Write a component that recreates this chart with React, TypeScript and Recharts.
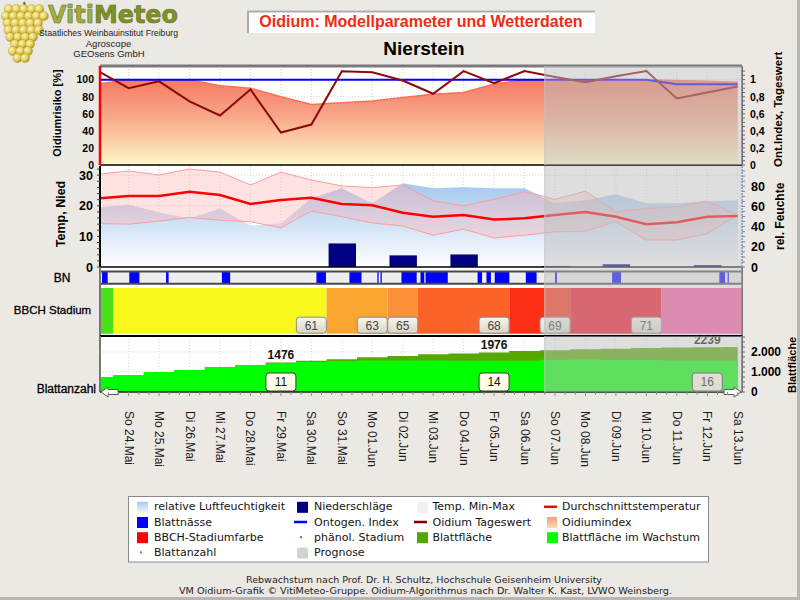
import React from 'react';
import {
  ComposedChart,
  Area,
  Line,
  Bar,
  XAxis,
  YAxis,
  CartesianGrid,
  ReferenceArea,
  ReferenceLine,
  ReferenceDot,
} from 'recharts';

// ---------- daily values, Sa 23.Mai … Sa 13.Jun ----------
const dayLabels = [
  'Sa 23.Mai', 'So 24.Mai', 'Mo 25.Mai', 'Di 26.Mai', 'Mi 27.Mai', 'Do 28.Mai', 'Fr 29.Mai',
  'Sa 30.Mai', 'So 31.Mai', 'Mo 01.Jun', 'Di 02.Jun', 'Mi 03.Jun', 'Do 04.Jun', 'Fr 05.Jun',
  'Sa 06.Jun', 'So 07.Jun', 'Mo 08.Jun', 'Di 09.Jun', 'Mi 10.Jun', 'Do 11.Jun', 'Fr 12.Jun',
  'Sa 13.Jun',
];

// Oidiumindex in %
const oidiumIndex = [95, 100, 100, 100, 93, 90, 80, 71, 73, 75, 79, 83, 85, 95, 100, 100, 100, 100, 100, 99, 98, 97];
// Oidium Tageswert (0..1)
const oidiumTageswert = [1.1, 0.9, 0.98, 0.745, 0.58, 0.886, 0.38, 0.474, 1.098, 1.086, 0.99, 0.835, 1.1, 0.96, 1.1, 1.03, 0.97, 1.04, 1.1, 0.78, 0.85, 0.92];
// Ontogenetischer Index (0..1)
const ontogenIndex = [1, 1, 1, 1, 1, 1, 1, 1, 1, 1, 1, 1, 1, 1, 1, 1, 1, 1, 1, 0.945, 0.945, 0.945];

// relative Luftfeuchtigkeit in %
const relHumidity = [59, 62, 54, 48, 58, 41, 43, 68, 78, 63, 83, 78, 79, 78, 78, 63, 66, 72, 63, 63, 65, 66];
// Temperatur in °C
const tempMean = [22.4, 23.2, 23.2, 24.6, 23.5, 20.6, 21.9, 22.6, 20.6, 20.2, 17.7, 16.4, 17.0, 15.5, 15.9, 17.0, 18.0, 16.4, 14.0, 14.6, 16.4, 16.7];
const tempMax = [30.3, 31.4, 30.1, 32.0, 31.0, 26.8, 31.0, 28.4, 26.5, 25.9, 26.8, 21.6, 20.0, 22.1, 24.6, 22.1, 24.8, 18.0, 19.1, 19.7, 21.5, 17.0];
const tempMin = [14.2, 14.0, 15.0, 16.2, 15.3, 14.8, 12.8, 18.3, 16.4, 14.4, 13.4, 10.4, 12.4, 9.5, 10.4, 11.5, 11.7, 14.8, 8.8, 8.8, 10.9, 17.0];
// Niederschläge in mm
const precipitation = [0, 0, 0, 0, 0, 0, 0, 0, 7.7, 0, 3.8, 0, 4.1, 0, 0, 0.3, 0, 0.9, 0, 0, 0.6, 0];

// Blattfläche in cm²
const leafArea = [750, 835, 1000, 1100, 1235, 1350, 1476, 1560, 1635, 1735, 1800, 1885, 1930, 1976, 2050, 2085, 2135, 2165, 2200, 2220, 2239, 2250];
const leafAreaGrowing = [750, 835, 1000, 1100, 1235, 1350, 1440, 1500, 1550, 1570, 1580, 1580, 1560, 1560, 1560, 1610, 1620, 1600, 1600, 1580, 1570, 1560];

// BBCH-Stadium je Tag
const bbchStage = [57, 61, 61, 61, 61, 61, 61, 61, 63, 63, 65, 68, 68, 68, 69, 69, 71, 71, 71, 73, 73, 73];
const bbchColors: Record<number, string> = {
  57: '#4BE01C',
  61: '#F8F81C',
  63: '#FBA531',
  65: '#FA9138',
  68: '#FC6329',
  69: '#FC3016',
  71: '#F01226',
  73: '#F85AA2',
};

// Blattanzahl (wöchentlich)
const leafCountDays = ['Fr 29.Mai', 'Fr 05.Jun', 'Fr 12.Jun'];
const leafCounts = [11, 14, 16];

// Blattnässe-Perioden in Stunden ab So 24.Mai 00:00
const leafWetnessHours: Array<[number, number]> = [
  [-21, -16.5], [0.5, 8.5], [29.5, 31.5], [73.5, 80], [148, 155.5], [174, 183.5], [196, 197], [198.5, 199.5],
  [215, 227], [230, 233], [234, 251.5], [275, 278.5], [282, 285.5], [288.5, 300], [313, 321.5], [336, 337.5],
  [381, 388], [465.5, 470], [472, 473],
];

// Beginn der Prognose in Stunden ab So 24.Mai 00:00
const forecastStartHour = 328;

// ---------- derived tables ----------
const xDomain: [number, number] = [-0.94, 20.14];
const forecastStart = forecastStartHour / 24;

const rows = dayLabels.map((label, i) => ({
  t: i - 1,
  label,
  oidiumIndex: oidiumIndex[i],
  tageswert: oidiumTageswert[i],
  ontogen: ontogenIndex[i],
  humidity: relHumidity[i],
  tempMean: tempMean[i],
  tempRange: [tempMin[i], tempMax[i]],
  precip: precipitation[i],
  leafArea: leafArea[i],
  leafGrowing: leafAreaGrowing[i],
}));

const dayTicks = rows.map((r) => r.t).filter((t) => t >= 0);
const minorDayTicks = Array.from({ length: 64 }, (_, k) => (k - 2) / 3).filter(
  (t) => t >= xDomain[0] && t <= xDomain[1],
);

type Run = { stage: number; start: number; end: number };
const bbchRuns: Run[] = [];
bbchStage.forEach((stage, i) => {
  const t = i - 1;
  const last = bbchRuns[bbchRuns.length - 1];
  if (last && last.stage === stage) last.end = t;
  else bbchRuns.push({ stage, start: t, end: t });
});

const leafLabels = leafCountDays.map((d, k) => {
  const i = dayLabels.indexOf(d);
  return { t: i - 1, area: leafArea[i], count: leafCounts[k] };
});

// ---------- styling helpers ----------
const FONT = "'Liberation Sans', Arial, Helvetica, sans-serif";
const LEGEND_FONT = "'DejaVu Sans', Verdana, sans-serif";

const isMultiple = (v: number, step: number) => Math.abs(v / step - Math.round(v / step)) < 1e-6;
const commaFmt = (v: number) => String(Math.round(v * 10) / 10).replace('.', ',');
const thousandFmt = (v: number) =>
  v >= 1000 ? `${Math.floor(v / 1000)}.${String(v % 1000).padStart(3, '0')}` : String(v);

const valueTick =
  (anchor: 'start' | 'end', size: number, show: (v: number) => boolean, fmt: (v: number) => string) =>
  (props: any) => {
    const v = props.payload?.value;
    if (v === undefined || !show(v)) return <g />;
    return (
      <text
        x={props.x}
        y={props.y}
        dy="0.36em"
        textAnchor={anchor}
        fontFamily={FONT}
        fontWeight="bold"
        fontSize={size}
        fill="#000"
      >
        {fmt(v)}
      </text>
    );
  };

const DayTick = (props: any) => {
  const { x, y, payload } = props;
  const v = payload?.value ?? 0;
  const isDay = isMultiple(v, 1);
  const label = isDay ? dayLabels[Math.round(v) + 1] : undefined;
  return (
    <g>
      <line x1={x} x2={x} y1={y} y2={y + (isDay ? 4 : 3)} stroke="#8C8C8C" strokeWidth={1} />
      {label && v >= 0 && (
        <text
          transform={`translate(${x},${y + 19}) rotate(90)`}
          dominantBaseline="central"
          textAnchor="start"
          fontFamily={FONT}
          fontSize={12}
          fill="#1A1A1A"
        >
          {label}
        </text>
      )}
    </g>
  );
};

const forecastOverlay = (key: string) => [
  <ReferenceArea
    key={`${key}-fc`}
    x1={forecastStart}
    x2={xDomain[1]}
    fill="#BEBEBE"
    fillOpacity={0.5}
    stroke="none"
    ifOverflow="hidden"
    zIndex={1000}
  />,
  <ReferenceLine
    key={`${key}-fcl`}
    x={forecastStart}
    stroke="#C2C2C2"
    strokeWidth={1}
    zIndex={1000}
  />,
];

const stageBox = (stage: number) => (p: any) => (
  <g>
    <rect
      x={p.cx - 15}
      y={p.cy - 16.5}
      width={30}
      height={16}
      rx={3}
      fill="url(#stageBoxGrad)"
      stroke="#8C8C8C"
      strokeWidth={1}
    />
    <text
      x={p.cx}
      y={p.cy - 8.2}
      textAnchor="middle"
      dominantBaseline="central"
      fontFamily={FONT}
      fontSize={12}
      fill="#444"
    >
      {stage}
    </text>
  </g>
);

const leafCountBox = (count: number) => (p: any) => (
  <g>
    <rect x={p.cx - 15} y={p.cy - 19} width={30} height={18} rx={3} fill="#FFFFE6" stroke="#3A3A3A" strokeWidth={1} />
    <text
      x={p.cx}
      y={p.cy - 9.7}
      textAnchor="middle"
      dominantBaseline="central"
      fontFamily={FONT}
      fontSize={12}
      fill="#111"
    >
      {count}
    </text>
  </g>
);

const areaValueLabel = (value: number) => (p: any) => (
  <text x={p.cx} y={p.cy - 3} textAnchor="middle" fontFamily={FONT} fontWeight="bold" fontSize={12} fill="#111">
    {value}
  </text>
);

const arrowShape = (dir: 'left' | 'right') => (p: any) => {
  const s = dir === 'left' ? 1 : -1;
  const tip = p.cx + s * 1;
  const pts = [
    [tip, p.cy],
    [tip + s * 7, p.cy - 5],
    [tip + s * 7, p.cy - 2.5],
    [tip + s * 17, p.cy - 2.5],
    [tip + s * 17, p.cy + 2.5],
    [tip + s * 7, p.cy + 2.5],
    [tip + s * 7, p.cy + 5],
  ]
    .map((q) => q.join(','))
    .join(' ');
  return <polygon points={pts} fill="#FFFFFF" stroke="#5A5A5A" strokeWidth={1} />;
};

// ---------- panels ----------
const fracTicks = Array.from({ length: 23 }, (_, k) => k / 20);
const tempTicks = Array.from({ length: 17 }, (_, k) => k * 2);
const humTicks = Array.from({ length: 20 }, (_, k) => k * 5);
const areaTicks = Array.from({ length: 12 }, (_, k) => k * 250);

function OidiumPanel() {
  return (
    <ComposedChart width={800} height={119} data={rows} margin={{ top: 10, right: 0, bottom: 10, left: 40 }}>
      <defs>
        <linearGradient id="oidGrad" x1="0" y1="0" x2="0" y2="1">
          <stop offset="0%" stopColor="#F47A64" />
          <stop offset="45%" stopColor="#F8A98A" />
          <stop offset="100%" stopColor="#FFF8C8" />
        </linearGradient>
      </defs>
      <CartesianGrid
        stroke="#D2D2D2"
        strokeDasharray="1 2"
        verticalValues={dayTicks}
        horizontalValues={[20, 40, 60, 80, 100]}
      />
      <XAxis type="number" dataKey="t" domain={xDomain} allowDataOverflow ticks={dayTicks} hide />
      <YAxis
        type="number"
        domain={[0, 116]}
        allowDataOverflow
        ticks={[0, 20, 40, 60, 80, 100]}
        interval={0}
        width={60}
        axisLine={{ stroke: '#FF0000', strokeWidth: 2.5 }}
        tickLine={false}
        tickSize={3}
        tickMargin={3}
        tick={valueTick('end', 10.5, () => true, (v) => String(v))}
      />
      <YAxis
        yAxisId="r"
        orientation="right"
        type="number"
        domain={[0, 1.16]}
        allowDataOverflow
        ticks={fracTicks}
        interval={0}
        width={58}
        axisLine={{ stroke: '#4A4A4A', strokeWidth: 1.5 }}
        tickLine={{ stroke: '#666' }}
        tickSize={3}
        tickMargin={5}
        tick={valueTick('start', 10.5, (v) => isMultiple(v, 0.2) && v <= 1.0001, commaFmt)}
      />
      <Area
        dataKey="oidiumIndex"
        type="linear"
        stroke="#FF6E58"
        strokeWidth={1.5}
        fill="url(#oidGrad)"
        fillOpacity={1}
        isAnimationActive={false}
      />
      <Line yAxisId="r" dataKey="ontogen" type="linear" stroke="#0000FF" strokeWidth={2} dot={false} isAnimationActive={false} />
      <Line yAxisId="r" dataKey="tageswert" type="linear" stroke="#8C0A0A" strokeWidth={2} dot={false} isAnimationActive={false} />
      <ReferenceLine y={116} stroke="#7A7A7A" strokeWidth={3} ifOverflow="visible" />
      <ReferenceLine y={0} stroke="#000" strokeWidth={1.5} ifOverflow="visible" />
      {forecastOverlay('a')}
    </ComposedChart>
  );
}

function WeatherPanel() {
  return (
    <ComposedChart width={800} height={121} data={rows} margin={{ top: 10, right: 0, bottom: 10, left: 40 }}>
      <defs>
        <linearGradient id="humGrad" x1="0" y1="0" x2="0" y2="1">
          <stop offset="0%" stopColor="#A4C7EE" />
          <stop offset="100%" stopColor="#FFFFFF" />
        </linearGradient>
      </defs>
      <CartesianGrid stroke="#D6D6D6" strokeDasharray="1 2" verticalValues={dayTicks} horizontalValues={[10, 20, 30]} />
      <XAxis type="number" dataKey="t" domain={xDomain} allowDataOverflow ticks={dayTicks} hide />
      <YAxis
        type="number"
        domain={[0, 33]}
        allowDataOverflow
        ticks={tempTicks}
        interval={0}
        width={60}
        axisLine={{ stroke: '#000', strokeWidth: 2 }}
        tickLine={{ stroke: '#444' }}
        tickSize={3}
        tickMargin={4}
        tick={valueTick('end', 12.5, (v) => isMultiple(v, 10), (v) => String(v))}
      />
      <YAxis
        yAxisId="r"
        orientation="right"
        type="number"
        domain={[0, 100]}
        allowDataOverflow
        ticks={humTicks}
        interval={0}
        width={58}
        axisLine={{ stroke: '#6F86B5', strokeWidth: 1.5, strokeDasharray: '2 1' }}
        tickLine={{ stroke: '#6F86B5' }}
        tickSize={3}
        tickMargin={6}
        tick={valueTick('start', 12.5, (v) => isMultiple(v, 20) && v <= 80, (v) => String(v))}
      />
      <Area
        yAxisId="r"
        dataKey="humidity"
        type="linear"
        stroke="none"
        fill="url(#humGrad)"
        fillOpacity={1}
        isAnimationActive={false}
      />
      <Area
        dataKey="tempRange"
        type="linear"
        stroke="#FF9C9C"
        strokeWidth={1}
        fill="#FFB4B4"
        fillOpacity={0.38}
        isAnimationActive={false}
      />
      <Bar dataKey="precip" fill="#000080" barSize={33} isAnimationActive={false} />
      <Line dataKey="tempMean" type="linear" stroke="#FF0000" strokeWidth={2.5} dot={false} isAnimationActive={false} />
      <ReferenceLine y={0} stroke="#000" strokeWidth={1.5} ifOverflow="visible" />
      {forecastOverlay('b')}
    </ComposedChart>
  );
}

function StagePanel() {
  return (
    <ComposedChart width={800} height={69} data={rows} margin={{ top: 0, right: 58, bottom: 0, left: 100 }}>
      <defs>
        <linearGradient id="stageBoxGrad" x1="0" y1="0" x2="0" y2="1">
          <stop offset="0%" stopColor="#F8F6EE" />
          <stop offset="100%" stopColor="#D9D6C6" />
        </linearGradient>
      </defs>
      <XAxis type="number" dataKey="t" domain={xDomain} allowDataOverflow hide />
      <YAxis type="number" domain={[0, 69]} reversed allowDataOverflow hide />
      {/* Blattnässe strip */}
      <ReferenceArea
        x1={xDomain[0]}
        x2={xDomain[1]}
        y1={4}
        y2={17}
        fill="#EEEEEE"
        fillOpacity={1}
        stroke="none"
        ifOverflow="hidden"
      />
      {leafWetnessHours.map(([a, b], i) => (
        <ReferenceArea
          key={`bn-${i}`}
          x1={a / 24}
          x2={b / 24}
          y1={5}
          y2={16.5}
          fill="#0000FF"
          fillOpacity={1}
          stroke="none"
          ifOverflow="hidden"
        />
      ))}
      <ReferenceLine y={4.5} stroke="#4A4A4A" strokeWidth={2} ifOverflow="visible" />
      <ReferenceLine y={16.8} stroke="#4A4A4A" strokeWidth={2} ifOverflow="visible" />
      {/* BBCH colour bands */}
      {bbchRuns.map((run, i) => (
        <ReferenceArea
          key={`bbch-${i}`}
          x1={run.start - 0.5}
          x2={run.end + 0.5}
          y1={21}
          y2={66.7}
          fill={bbchColors[run.stage]}
          fillOpacity={1}
          stroke="none"
          ifOverflow="hidden"
        />
      ))}
      {bbchRuns.slice(1, -1).map((run, i) => (
        <ReferenceDot
          key={`stage-${i}`}
          x={run.end}
          y={66.7}
          r={0}
          ifOverflow="visible"
          shape={stageBox(run.stage)}
        />
      ))}
      <ReferenceLine x={xDomain[0]} stroke="#777" strokeWidth={2} ifOverflow="visible" />
      <ReferenceLine x={xDomain[1]} stroke="#555" strokeWidth={1.5} ifOverflow="visible" />
      {forecastOverlay('c')}
    </ComposedChart>
  );
}

function LeafPanel() {
  return (
    <ComposedChart width={800} height={147} data={rows} margin={{ top: 6, right: 0, bottom: 0, left: 100 }}>
      <CartesianGrid stroke="#D4D4D4" strokeDasharray="1 2" verticalValues={dayTicks} horizontalValues={[1000, 2000]} />
      <XAxis
        type="number"
        dataKey="t"
        domain={xDomain}
        allowDataOverflow
        ticks={minorDayTicks}
        interval={0}
        height={85}
        tickLine={false}
        tickSize={0}
        tickMargin={0}
        axisLine={{ stroke: '#1E1E1E', strokeWidth: 1.5 }}
        tick={DayTick}
      />
      <YAxis
        orientation="right"
        type="number"
        domain={[0, 2800]}
        allowDataOverflow
        ticks={areaTicks}
        interval={0}
        width={58}
        axisLine={{ stroke: '#4A4A4A', strokeWidth: 1.5 }}
        tickLine={{ stroke: '#666' }}
        tickSize={3}
        tickMargin={6}
        tick={valueTick('start', 12, (v) => isMultiple(v, 1000), thousandFmt)}
      />
      <Area type="step" dataKey="leafArea" stroke="none" fill="#56A800" fillOpacity={1} isAnimationActive={false} />
      <Area type="step" dataKey="leafGrowing" stroke="none" fill="#00FF00" fillOpacity={1} isAnimationActive={false} />
      <ReferenceLine y={2800} stroke="#000" strokeWidth={2} ifOverflow="visible" />
      <ReferenceLine x={xDomain[0]} stroke="#777" strokeWidth={2} ifOverflow="visible" />
      {leafLabels.map((l, i) => (
        <ReferenceDot key={`la-${i}`} x={l.t} y={l.area} r={0} ifOverflow="visible" shape={areaValueLabel(l.area)} />
      ))}
      {leafLabels.map((l, i) => (
        <ReferenceDot key={`lc-${i}`} x={l.t} y={0} r={0} ifOverflow="visible" shape={leafCountBox(l.count)} />
      ))}
      {forecastOverlay('d')}
      <ReferenceDot x={xDomain[0]} y={0} r={0} ifOverflow="visible" shape={arrowShape('left')} zIndex={1100} />
      <ReferenceDot x={xDomain[1]} y={0} r={0} ifOverflow="visible" shape={arrowShape('right')} zIndex={1100} />
    </ComposedChart>
  );
}

// ---------- page decoration: header, axis titles, legend, footer ----------
type LegendEntry = { kind: 'sq' | 'soft' | 'line' | 'dot' | 'humGrad' | 'oidGrad'; color?: string; text: string };
const legendRows: LegendEntry[][] = [
  [
    { kind: 'humGrad', text: 'relative Luftfeuchtigkeit' },
    { kind: 'sq', color: '#000080', text: 'Niederschläge' },
    { kind: 'soft', color: '#F0F0F0', text: 'Temp. Min-Max' },
    { kind: 'line', color: '#FF0000', text: 'Durchschnittstemperatur' },
  ],
  [
    { kind: 'sq', color: '#0000FF', text: 'Blattnässe' },
    { kind: 'line', color: '#0000FF', text: 'Ontogen. Index' },
    { kind: 'line', color: '#800000', text: 'Oidium Tageswert' },
    { kind: 'oidGrad', text: 'Oidiumindex' },
  ],
  [
    { kind: 'sq', color: '#FF0000', text: 'BBCH-Stadiumfarbe' },
    { kind: 'dot', text: 'phänol. Stadium' },
    { kind: 'sq', color: '#52A800', text: 'Blattfläche' },
    { kind: 'sq', color: '#00FF00', text: 'Blattfläche im Wachstum' },
  ],
  [
    { kind: 'dot', text: 'Blattanzahl' },
    { kind: 'soft', color: '#D2D2D2', text: 'Prognose' },
  ],
];
const legendIconX = [137, 297, 417, 547];
const legendTextX = [154, 314, 432.5, 562];

function LegendIcon({ e, x, y }: { e: LegendEntry; x: number; y: number }) {
  switch (e.kind) {
    case 'line':
      return <line x1={x - 3} x2={x + 10} y1={y} y2={y} stroke={e.color} strokeWidth={2.5} />;
    case 'dot':
      return <rect x={x + 3} y={y - 1} width={2} height={2} fill="#3C9A3C" />;
    case 'humGrad':
      return <rect x={x} y={y - 5} width={11} height={11} fill="url(#lgHum)" />;
    case 'oidGrad':
      return <rect x={x} y={y - 5} width={10} height={11} fill="url(#lgOid)" />;
    case 'soft':
      return <rect x={x} y={y - 5} width={11} height={11} rx={2} fill={e.color} />;
    default:
      return <rect x={x} y={y - 5} width={11} height={11} fill={e.color} />;
  }
}

function Decor() {
  const grapes: Array<[number, number]> = [];
  const rowCounts = [5, 6, 5, 5, 4, 3, 3, 2];
  rowCounts.forEach((n, r) => {
    const cy = 9 + r * 7;
    const cx0 = 24 - r * 0.6;
    for (let k = 0; k < n; k++) grapes.push([cx0 + (k - (n - 1) / 2) * 7.6 + (r % 2) * 1.5, cy]);
  });
  return (
    <svg width={800} height={600} style={{ position: 'absolute', left: 0, top: 0 }}>
      <defs>
        <radialGradient id="grape" cx="35%" cy="35%" r="70%">
          <stop offset="0%" stopColor="#FFF6B0" />
          <stop offset="60%" stopColor="#E2CC58" />
          <stop offset="100%" stopColor="#A08A20" />
        </radialGradient>
        <linearGradient id="lgHum" x1="0" y1="0" x2="0" y2="1">
          <stop offset="0%" stopColor="#A8CBEF" />
          <stop offset="100%" stopColor="#F4F8FE" />
        </linearGradient>
        <linearGradient id="lgOid" x1="0" y1="0" x2="0" y2="1">
          <stop offset="0%" stopColor="#F59C80" />
          <stop offset="100%" stopColor="#FBDDB0" />
        </linearGradient>
      </defs>
      <rect x={0} y={0} width={800} height={600} fill="#ECE9E5" />
      <rect x={797} y={0} width={3} height={600} fill="#B8B6B2" />
      <rect x={0} y={597} width={800} height={3} fill="#B8B6B2" />
      {/* white plotting background */}
      <rect x={100} y={66} width={642} height={326} fill="#FFFFFF" />

      {/* logo */}
      <path d="M24 2 L26 9" stroke="#6A5A18" strokeWidth={2} />
      {grapes.map(([cx, cy], i) => (
        <circle key={i} cx={cx} cy={cy} r={4.6} fill="url(#grape)" stroke="#B09A30" strokeWidth={0.4} />
      ))}
      <text x={48} y={22.5} fontFamily="'DejaVu Sans', Verdana, sans-serif" fontWeight="bold" fontSize={24} textLength={130} lengthAdjust="spacingAndGlyphs" stroke="#5F701A" strokeWidth={0.6}>
        <tspan fill="#9DB040">Viti</tspan>
        <tspan fill="#7E9228">Meteo</tspan>
      </text>
      <text x={39} y={36} fontFamily={FONT} fontSize={9.5} fill="#222" textLength={139} lengthAdjust="spacingAndGlyphs">
        Staatliches Weinbauinstitut Freiburg
      </text>
      <text x={108.5} y={46.5} fontFamily={FONT} fontSize={9.5} fill="#222" textAnchor="middle">
        Agroscope
      </text>
      <text x={109} y={57} fontFamily={FONT} fontSize={9.5} fill="#222" textAnchor="middle">
        GEOsens GmbH
      </text>

      {/* title */}
      <rect x={247} y={10.5} width={348} height={22.5} fill="#FFFFFF" />
      <line x1={247} x2={595} y1={11.5} y2={11.5} stroke="#ACACAC" strokeWidth={2} />
      <line x1={248} x2={248} y1={11} y2={33} stroke="#ACACAC" strokeWidth={2} />
      <text x={421} y={27.3} textAnchor="middle" fontFamily={FONT} fontWeight="bold" fontSize={16} fill="#F52A14">
        Oidium: Modellparameter und Wetterdaten
      </text>
      <text x={424} y={55} textAnchor="middle" fontFamily={FONT} fontWeight="bold" fontSize={19} fill="#000">
        Nierstein
      </text>

      {/* axis titles */}
      <text transform="translate(57,113) rotate(-90)" textAnchor="middle" dominantBaseline="central" fontFamily={FONT} fontWeight="bold" fontSize={11} fill="#000">
        Oidiumrisiko [%]
      </text>
      <text transform="translate(61,214) rotate(-90)" textAnchor="middle" dominantBaseline="central" fontFamily={FONT} fontWeight="bold" fontSize={12.5} fill="#000">
        Temp, Nied
      </text>
      <text transform="translate(778,167) rotate(-90)" textAnchor="start" dominantBaseline="central" fontFamily={FONT} fontWeight="bold" fontSize={11.5} fill="#000">
        Ont.Index, Tageswert
      </text>
      <text transform="translate(780,250) rotate(-90)" textAnchor="start" dominantBaseline="central" fontFamily={FONT} fontWeight="bold" fontSize={12} fill="#000">
        rel. Feuchte
      </text>
      <text transform="translate(792,393) rotate(-90)" textAnchor="start" dominantBaseline="central" fontFamily={FONT} fontWeight="bold" fontSize={11} fill="#000">
        Blattfläche
      </text>

      {/* row labels */}
      <text x={62} y={277.5} textAnchor="middle" dominantBaseline="central" fontFamily={FONT} fontSize={12} fill="#000" stroke="#000" strokeWidth={0.3}>
        BN
      </text>
      <text x={52.5} y={310} textAnchor="middle" dominantBaseline="central" fontFamily={FONT} fontSize={11.5} fill="#000" stroke="#000" strokeWidth={0.3}>
        BBCH Stadium
      </text>
      <text x={96} y={389} textAnchor="end" dominantBaseline="central" fontFamily={FONT} fontSize={12} fill="#000" stroke="#000" strokeWidth={0.3}>
        Blattanzahl
      </text>

      {/* legend */}
      <rect x={128.5} y={496.5} width={580} height={65.5} fill="#FFFFFF" stroke="#8A8A8A" strokeWidth={1} />
      {legendRows.map((row, r) =>
        row.map((e, c) => {
          const y = 506.8 + r * 15.2;
          return (
            <g key={`${r}-${c}`}>
              <LegendIcon e={e} x={legendIconX[c]} y={y} />
              <text x={legendTextX[c]} y={y} dominantBaseline="central" fontFamily={LEGEND_FONT} fontSize={11} fill="#141414">
                {e.text}
              </text>
            </g>
          );
        }),
      )}

      {/* footer */}
      <text x={424} y={579.5} textAnchor="middle" dominantBaseline="central" fontFamily={LEGEND_FONT} fontSize={9} fill="#222" textLength={356} lengthAdjust="spacingAndGlyphs">
        Rebwachstum nach Prof. Dr. H. Schultz, Hochschule Geisenheim University
      </text>
      <text x={425.5} y={591} textAnchor="middle" dominantBaseline="central" fontFamily={LEGEND_FONT} fontSize={9} fill="#222" textLength={493} lengthAdjust="spacingAndGlyphs">
        VM Oidium-Grafik © VitiMeteo-Gruppe. Oidium-Algorithmus nach Dr. Walter K. Kast, LVWO Weinsberg.
      </text>
    </svg>
  );
}

export default function App() {
  return (
    <div style={{ position: 'absolute', left: 0, top: 0, width: 800, height: 600, overflow: 'hidden' }}>
      <Decor />
      <div style={{ position: 'absolute', left: 0, top: 56 }}>
        <OidiumPanel />
      </div>
      <div style={{ position: 'absolute', left: 0, top: 156 }}>
        <WeatherPanel />
      </div>
      <div style={{ position: 'absolute', left: 0, top: 267 }}>
        <StagePanel />
      </div>
      <div style={{ position: 'absolute', left: 0, top: 330 }}>
        <LeafPanel />
      </div>
    </div>
  );
}
